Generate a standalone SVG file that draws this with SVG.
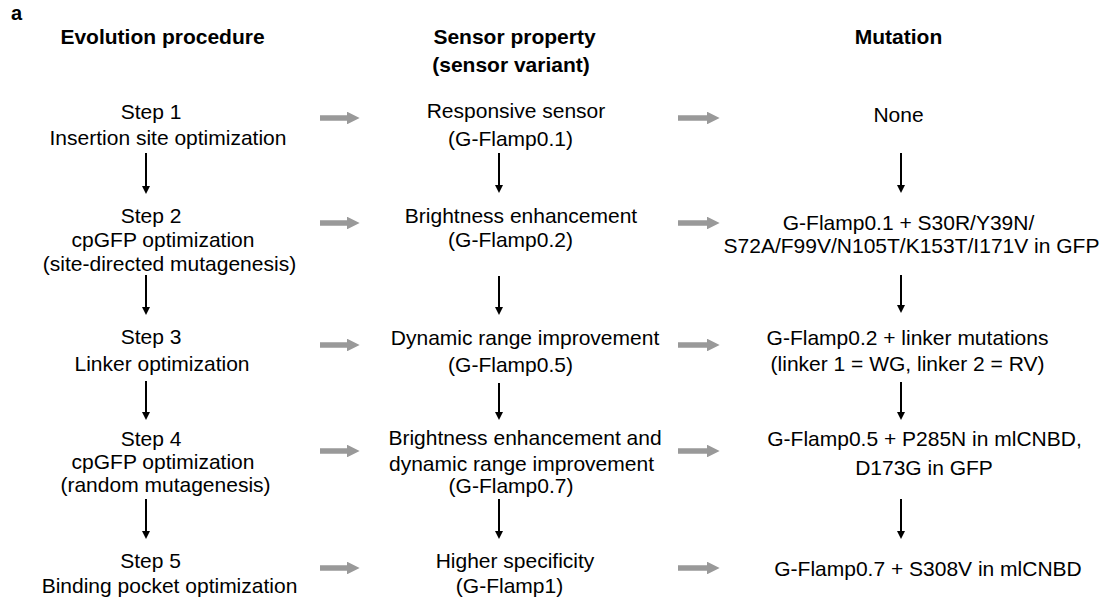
<svg xmlns="http://www.w3.org/2000/svg" width="1109" height="603" viewBox="0 0 1109 603">
<defs>
<style>
text{font-family:"Liberation Sans",Arial,sans-serif;font-size:21px;fill:#000;text-anchor:middle}
.h{font-weight:bold}
.g{stroke:#999;stroke-width:5.5;fill:none;marker-end:url(#ga)}
.k{stroke:#000;stroke-width:2;fill:none;marker-end:url(#ka)}
</style>
<marker id="ga" viewBox="0 0 10 10" refX="0" refY="5" markerWidth="3.2" markerHeight="2.3" orient="auto" markerUnits="strokeWidth"><path d="M0,0 L10,5 L0,10 Z" fill="#999"/></marker>
<marker id="ka" viewBox="0 0 10 10" refX="0" refY="5" markerWidth="6.5" markerHeight="4" orient="auto" markerUnits="strokeWidth"><path d="M0,0 L10,5 L0,10 Z" fill="#000"/></marker>
</defs>
<rect width="1109" height="603" fill="#fff"/>
<text class="h" x="11" y="20" style="text-anchor:start;font-size:20px">a</text>
<g id="headers">
<text class="h" x="162.5" y="44">Evolution procedure</text>
<text class="h" x="514.5" y="44">Sensor property</text>
<text class="h" x="511" y="72">(sensor variant)</text>
<text class="h" x="898.5" y="44">Mutation</text>
</g>
<g id="step1"><text x="151" y="119">Step 1</text><text x="168" y="145">Insertion site optimization</text></g>
<g id="step2"><text x="151" y="223">Step 2</text><text x="163" y="247">cpGFP optimization</text><text x="169.5" y="271">(site-directed mutagenesis)</text></g>
<g id="step3"><text x="151" y="344">Step 3</text><text x="162" y="371">Linker optimization</text></g>
<g id="step4"><text x="151" y="446">Step 4</text><text x="163" y="469">cpGFP optimization</text><text x="165.5" y="492">(random mutagenesis)</text></g>
<g id="step5"><text x="150.5" y="568">Step 5</text><text x="169.5" y="593">Binding pocket optimization</text></g>
<g id="sensor1"><text x="516" y="118">Responsive sensor</text><text x="510.5" y="146">(G-Flamp0.1)</text></g>
<g id="sensor2"><text x="521" y="223">Brightness enhancement</text><text x="510.5" y="247">(G-Flamp0.2)</text></g>
<g id="sensor3"><text x="525" y="345">Dynamic range improvement</text><text x="510.5" y="372">(G-Flamp0.5)</text></g>
<g id="sensor4"><text x="525" y="445">Brightness enhancement and</text><text x="521.5" y="471">dynamic range improvement</text><text x="511" y="493">(G-Flamp0.7)</text></g>
<g id="sensor5"><text x="515" y="568">Higher specificity</text><text x="509.5" y="593">(G-Flamp1)</text></g>
<g id="mut1"><text x="898.5" y="122">None</text></g>
<g id="mut2"><text x="908.5" y="230">G-Flamp0.1 + S30R/Y39N/</text><text x="911.5" y="253">S72A/F99V/N105T/K153T/I171V in GFP</text></g>
<g id="mut3"><text x="907.5" y="345">G-Flamp0.2 + linker mutations</text><text x="907.5" y="371">(linker 1 = WG, linker 2 = RV)</text></g>
<g id="mut4"><text x="924.5" y="446">G-Flamp0.5 + P285N in mlCNBD,</text><text x="924" y="475">D173G in GFP</text></g>
<g id="mut5"><text x="928" y="576">G-Flamp0.7 + S308V in mlCNBD</text></g>
<g id="connectors">
<line class="g" x1="320" y1="118" x2="347" y2="118"/>
<line class="g" x1="320" y1="223" x2="347" y2="223"/>
<line class="g" x1="320" y1="345" x2="347" y2="345"/>
<line class="g" x1="320" y1="451" x2="347" y2="451"/>
<line class="g" x1="320" y1="568" x2="347" y2="568"/>
<line class="g" x1="678" y1="118" x2="707" y2="118"/>
<line class="g" x1="678" y1="223" x2="707" y2="223"/>
<line class="g" x1="678" y1="345" x2="707" y2="345"/>
<line class="g" x1="678" y1="451" x2="707" y2="451"/>
<line class="g" x1="678" y1="568" x2="707" y2="568"/>
<line class="k" x1="146" y1="153" x2="146" y2="186"/>
<line class="k" x1="146" y1="275" x2="146" y2="307"/>
<line class="k" x1="146" y1="381" x2="146" y2="412"/>
<line class="k" x1="146" y1="499" x2="146" y2="531"/>
<line class="k" x1="499" y1="153" x2="499" y2="185"/>
<line class="k" x1="499" y1="276" x2="499" y2="307"/>
<line class="k" x1="499" y1="383" x2="499" y2="412"/>
<line class="k" x1="499" y1="499" x2="499" y2="531"/>
<line class="k" x1="901" y1="153" x2="901" y2="185"/>
<line class="k" x1="901" y1="275" x2="901" y2="305"/>
<line class="k" x1="901" y1="382" x2="901" y2="412"/>
<line class="k" x1="901" y1="499" x2="901" y2="531"/>
</g>
</svg>
